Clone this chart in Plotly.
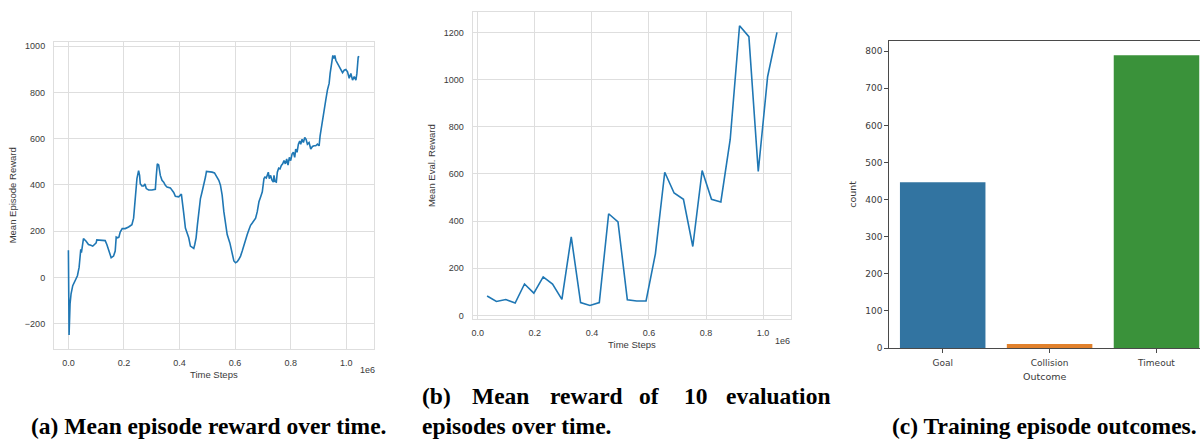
import plotly.graph_objects as go

W, H = 1200, 445

# (a) mean episode reward (rolling) vs. environment time steps
steps_a = [
    0, 2400, 6000, 9600, 15600, 24100, 32500, 38500, 42100, 44500,
    46900, 50500, 54200, 63800, 72200, 80600, 87800, 93900, 99900, 102300,
    114300, 126400, 132400, 138400, 148000, 154000, 162500, 168500, 172100, 176900,
    181700, 186500, 193700, 204600, 216600, 228600, 234700, 238300, 241900, 246700,
    252700, 256300, 258700, 264700, 270800, 275600, 280400, 288800, 300800, 312900,
    316500, 320100, 324900, 330900, 336900, 343000, 349000, 355000, 367000, 373000,
    379100, 385100, 397100, 406700, 409100, 415200, 421200, 427200, 433200, 439200,
    445200, 451300, 454900, 459700, 464500, 469300, 475300, 481300, 487400, 493400,
    497000, 505400, 517400, 525900, 535500, 541500, 547500, 553500, 559600, 565600,
    571600, 581200, 589700, 595700, 601700, 607700, 613700, 619700, 625800, 631800,
    637800, 643800, 649800, 655800, 661900, 667900, 673900, 679900, 685900, 691900,
    698000, 704000, 707600, 712400, 716000, 719600, 723200, 728000, 732900, 737700,
    740100, 743700, 748500, 752100, 756900, 761700, 766500, 771400, 776200, 781000,
    785800, 790600, 795400, 800200, 805100, 809900, 814700, 818300, 823100, 827900,
    832700, 836300, 841200, 846000, 850800, 855600, 860400, 866400, 872400, 878500,
    884500, 890500, 896500, 902500, 906100, 911000, 915800, 920600, 926600, 932600,
    938600, 942200, 947100, 951900, 955500, 959100, 962700, 968700, 974700, 980700,
    986800, 992800, 998800, 1004800, 1010800, 1016800, 1022900, 1028900, 1034900, 1038500,
    1043300, 1046900,
]
reward_a = [
    117, -249, -114, -71, -36, -14, 7, 43, 85, 121,
    107, 142, 168, 156, 142, 139, 135, 142, 149, 162,
    162, 161, 159, 142, 107, 85, 92, 114, 174, 171,
    174, 196, 211, 211, 218, 228, 256, 313, 384, 427,
    462, 441, 405, 395, 395, 404, 384, 378, 378, 381,
    441, 491, 486, 441, 420, 412, 398, 391, 387, 377,
    367, 351, 348, 360, 327, 277, 213, 196, 171, 135,
    128, 125, 142, 171, 228, 292, 341, 370, 398, 434,
    458, 458, 455, 452, 434, 420, 398, 356, 284, 228,
    185, 149, 100, 71, 63, 68, 78, 92, 114, 142,
    164, 185, 206, 225, 235, 245, 256, 284, 327, 348,
    370, 427, 434, 430, 441, 455, 427, 441, 420, 412,
    441, 415, 412, 455, 472, 469, 484, 491, 505, 491,
    512, 486, 519, 505, 533, 541, 519, 555, 541, 576,
    590, 576, 597, 583, 605, 597, 576, 583, 555, 566,
    569, 569, 576, 569, 612, 654, 690, 733, 768, 811,
    839, 882, 925, 960, 946, 960, 939, 925, 913, 899,
    885, 896, 899, 889, 861, 882, 853, 868, 853, 882,
    953, 956,
]

# (b) mean reward over 10 evaluation episodes
steps_b = [
    32768, 65536, 98304, 131072, 163840, 196608, 229376, 262144,
    294912, 327680, 360448, 393216, 425984, 458752, 491520, 524288,
    557056, 589824, 622592, 655360, 688128, 720896, 753664, 786432,
    819200, 851968, 884736, 917504, 950272, 983040, 1015808, 1048576,
]
reward_b = [
    82, 59, 67, 52, 133, 94, 163, 133,
    68, 333, 54, 42, 54, 431, 396, 66,
    61, 61, 261, 607, 519, 492, 292, 614,
    492, 481, 746, 1228, 1182, 610, 1012, 1200,
]

# (c) outcome counts of training episodes
outcomes = ["Goal", "Collision", "Timeout"]
outcome_counts = [447, 11, 789]
outcome_colors = ["#3274a1", "#e1812c", "#3a923a"]

step_ticks = [0, 200000, 400000, 600000, 800000, 1000000]
step_tick_text = ["0.0", "0.2", "0.4", "0.6", "0.8", "1.0"]

LINE = "#1f77b4"
GRID = "#dedede"
TXT = "#3a3a3a"
SANS = "Liberation Sans, Arial, sans-serif"
DEJAVU = "DejaVu Sans, sans-serif"
SERIF = "Liberation Serif, Times New Roman, serif"
CAP_SIZE = 23.5


def dom_x(a, b):
    return [a / W, b / W]


def dom_y(top, bottom):
    return [1 - bottom / H, 1 - top / H]


fig = go.Figure()

fig.add_trace(go.Scatter(x=steps_a, y=reward_a, mode="lines",
                         line=dict(color=LINE, width=1.6),
                         xaxis="x", yaxis="y", showlegend=False))
fig.add_trace(go.Scatter(x=steps_b, y=reward_b, mode="lines",
                         line=dict(color=LINE, width=1.6),
                         xaxis="x2", yaxis="y2", showlegend=False))
fig.add_trace(go.Bar(x=[0, 1, 2], y=outcome_counts, width=0.8,
                     marker=dict(color=outcome_colors, line=dict(width=0)),
                     xaxis="x3", yaxis="y3", showlegend=False))

grid_axis = dict(showgrid=True, gridcolor=GRID, gridwidth=1, zeroline=False,
                 showline=True, linecolor=GRID, linewidth=1, mirror=True,
                 ticks="", tickfont=dict(family=SANS, size=9, color=TXT))

fig.update_layout(
    width=W, height=H,
    margin=dict(l=0, r=0, t=0, b=0),
    paper_bgcolor="white", plot_bgcolor="white",
    bargap=0.2,
    xaxis=dict(grid_axis, domain=dom_x(53, 373), anchor="y",
               range=[-52000, 1099000], tickvals=step_ticks, ticktext=step_tick_text,
               ticklabelstandoff=5,
               title=dict(text="Time Steps", standoff=4,
                          font=dict(family=SANS, size=9.5, color=TXT))),
    yaxis=dict(grid_axis, domain=dom_y(42, 353), anchor="x",
               range=[-310, 1020], tickvals=[-200, 0, 200, 400, 600, 800, 1000],
               ticklabelstandoff=6,
               title=dict(text="Mean Episode Reward", standoff=6,
                          font=dict(family=SANS, size=9.5, color=TXT))),
    xaxis2=dict(grid_axis, domain=dom_x(472, 791), anchor="y2",
                range=[-18000, 1099000], tickvals=step_ticks, ticktext=step_tick_text,
                ticklabelstandoff=5,
                title=dict(text="Time Steps", standoff=4,
                           font=dict(family=SANS, size=9.5, color=TXT))),
    yaxis2=dict(grid_axis, domain=dom_y(12, 323), anchor="x2",
                range=[-17, 1287], tickvals=[0, 200, 400, 600, 800, 1000, 1200],
                ticklabelstandoff=6,
                title=dict(text="Mean Eval. Reward", standoff=6,
                           font=dict(family=SANS, size=9.5, color=TXT))),
    xaxis3=dict(domain=dom_x(889, 1200), anchor="y3", range=[-0.5, 2.407],
                tickvals=[0, 1, 2], ticktext=outcomes,
                showgrid=False, zeroline=False,
                showline=True, linecolor="#4a4a4a", linewidth=1, mirror=True,
                ticks="outside", ticklen=4, tickcolor="#4a4a4a", tickwidth=1,
                ticklabelstandoff=2,
                tickfont=dict(family=DEJAVU, size=9, color=TXT),
                title=dict(text="Outcome", standoff=6,
                           font=dict(family=DEJAVU, size=9.5, color=TXT))),
    yaxis3=dict(domain=dom_y(41, 352), anchor="x3", range=[0, 828.5],
                tickvals=[0, 100, 200, 300, 400, 500, 600, 700, 800],
                showgrid=False, zeroline=False,
                showline=True, linecolor="#4a4a4a", linewidth=1, mirror=False,
                ticks="outside", ticklen=4, tickcolor="#4a4a4a", tickwidth=1,
                tickfont=dict(family=DEJAVU, size=9, color=TXT),
                title=dict(text="count", standoff=6,
                           font=dict(family=DEJAVU, size=9.5, color=TXT))),
)

annotations = [
    # scientific offset labels
    dict(text="1e6", x=367 / W, y=1 - 374 / H, xref="paper", yref="paper",
         xanchor="center", yanchor="middle", showarrow=False,
         font=dict(family=SANS, size=9, color=TXT)),
    dict(text="1e6", x=782 / W, y=1 - 345 / H, xref="paper", yref="paper",
         xanchor="center", yanchor="middle", showarrow=False,
         font=dict(family=SANS, size=9, color=TXT)),
    # captions
    dict(text="<b>(a) Mean episode reward over time.</b>", x=28 / W, y=1 - 431 / H,
         xref="paper", yref="paper", xanchor="left", yanchor="middle", showarrow=False,
         font=dict(family=SERIF, size=CAP_SIZE, color="black")),
    dict(text="<b>episodes over time.</b>", x=419 / W, y=1 - 431 / H,
         xref="paper", yref="paper", xanchor="left", yanchor="middle", showarrow=False,
         font=dict(family=SERIF, size=CAP_SIZE, color="black")),
    dict(text="<b>(c) Training episode outcomes.</b>", x=1199 / W, y=1 - 431 / H,
         xref="paper", yref="paper", xanchor="right", yanchor="middle", showarrow=False,
         font=dict(family=SERIF, size=CAP_SIZE, color="black")),
]

# justified first line of caption (b)
words_b = ["(b)", "Mean", "reward", "of", "10", "evaluation"]
word_x = [419, 469, 547, 637, 682, 832]
for i, (wd, px) in enumerate(zip(words_b, word_x)):
    annotations.append(dict(
        text=f"<b>{wd}</b>", x=px / W, y=1 - 400 / H, xref="paper", yref="paper",
        xanchor="right" if i == len(words_b) - 1 else "left", yanchor="middle",
        showarrow=False, font=dict(family=SERIF, size=CAP_SIZE, color="black")))

fig.update_layout(annotations=annotations)

fig.write_html("out.html")
